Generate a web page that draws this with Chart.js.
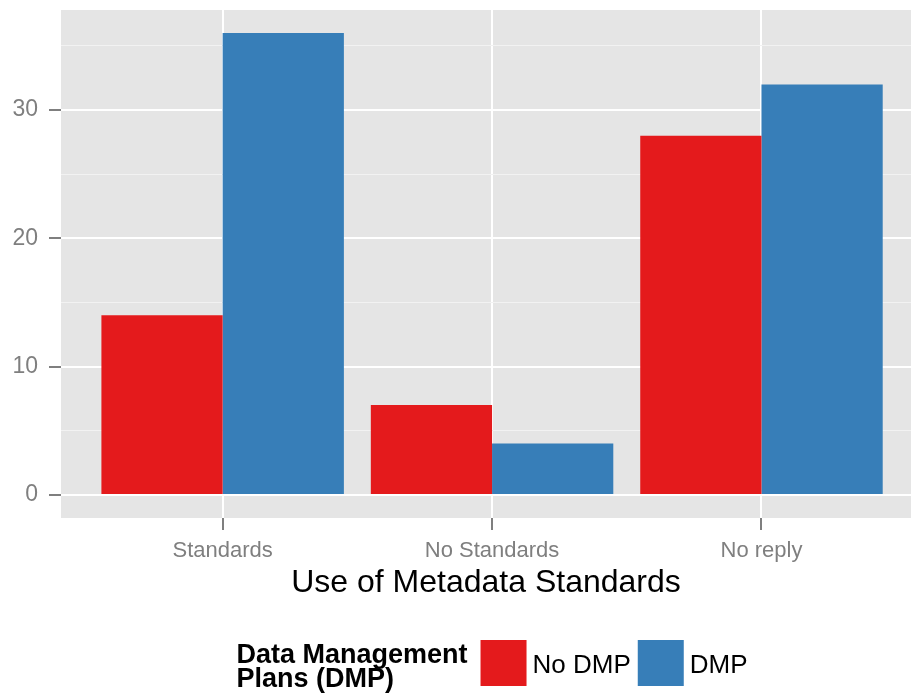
<!DOCTYPE html>
<html>
<head>
<meta charset="utf-8">
<script src="https://cdn.jsdelivr.net/npm/chart.js@4"></script>
<style>
  body { margin: 0; background: #fff; }
  #wrap { width: 911px; height: 697px; position: relative; }
</style>
</head>
<body>
<div id="wrap"><canvas id="chart"></canvas></div>
<script>
const categories = ['Standards', 'No Standards', 'No reply'];
const noDmp = [14, 7, 28];
const dmp = [36, 4, 32];
const seriesNames = ['No DMP', 'DMP'];
const seriesColors = ['#E41A1C', '#377EB8'];
const yMajor = [0, 10, 20, 30];
const yMinor = [5, 15, 25, 35];
const xTitle = 'Use of Metadata Standards';
const legendTitle = ['Data Management', 'Plans (DMP)'];

const FONT = '"Liberation Sans", Arial, sans-serif';

const panelBg = {
    id: 'panelBg',
    beforeDraw(chart) {
        const a = chart.chartArea;
        const c = chart.ctx;
        c.save();
        c.fillStyle = '#E5E5E5';
        c.fillRect(a.left, a.top, a.right - a.left, a.bottom - a.top);
        c.restore();
    }
};

const sideLegend = {
    id: 'sideLegend',
    afterDraw(chart) {
        const c = chart.ctx;
        c.save();
        c.font = 'bold 27px ' + FONT;
        const titleW = Math.max(...legendTitle.map(t => c.measureText(t).width));
        c.font = '26px ' + FONT;
        const labelW = seriesNames.map(t => c.measureText(t).width);
        const key = 46, gapTitle = 13, gapText = 6, gapItem = 7;
        let total = titleW + gapTitle;
        labelW.forEach((w, i) => { total += key + gapText + w + (i < labelW.length - 1 ? gapItem : 0); });
        const a = chart.chartArea;
        let x = (a.left + a.right) / 2 + 6 - total / 2;
        const keyTop = 640;
        const mid = keyTop + key / 2;

        c.fillStyle = '#000';
        c.textAlign = 'left';
        c.textBaseline = 'alphabetic';
        c.font = 'bold 27px ' + FONT;
        c.fillText(legendTitle[0], x, 663);
        c.fillText(legendTitle[1], x, 687);
        x += titleW + gapTitle;

        c.font = '26px ' + FONT;
        c.textBaseline = 'middle';
        seriesNames.forEach((name, i) => {
            c.fillStyle = seriesColors[i];
            c.fillRect(x, keyTop, key, key);
            x += key + gapText;
            c.fillStyle = '#000';
            c.fillText(name, x, mid + 3);
            x += labelW[i] + gapItem;
        });
        c.restore();
    }
};

const ctx = document.getElementById('chart');

new Chart(ctx, {
    type: 'bar',
    data: {
        datasets: [
            {
                label: seriesNames[0],
                data: categories.map((c, i) => ({ x: i + 1, y: noDmp[i] })),
                backgroundColor: seriesColors[0],
                borderWidth: 0
            },
            {
                label: seriesNames[1],
                data: categories.map((c, i) => ({ x: i + 1, y: dmp[i] })),
                backgroundColor: seriesColors[1],
                borderWidth: 0
            }
        ]
    },
    options: {
        responsive: true,
        maintainAspectRatio: false,
        animation: false,
        events: [],
        categoryPercentage: 0.9,
        barPercentage: 1,
        layout: { padding: { top: 10, right: 0, bottom: 95, left: 0 } },
        plugins: {
            legend: { display: false },
            tooltip: { enabled: false }
        },
        scales: {
            x: {
                type: 'linear',
                offset: false,
                min: 0.4,
                max: 3.555,
                afterBuildTicks(scale) {
                    scale.ticks = categories.map((c, i) => ({ value: i + 1 }));
                },
                afterFit(scale) {
                    scale.height = 84;
                    scale.paddingLeft = 0;
                    scale.paddingRight = 0;
                },
                border: { display: false },
                grid: {
                    offset: false,
                    color: '#FFFFFF',
                    lineWidth: 2,
                    tickLength: 12,
                    tickColor: '#7F7F7F',
                    tickWidth: 2
                },
                ticks: {
                    padding: 8,
                    maxRotation: 0,
                    autoSkip: false,
                    color: '#7F7F7F',
                    font: { family: FONT, size: 22 },
                    callback: (v) => categories[Math.round(v) - 1]
                },
                title: {
                    display: true,
                    text: xTitle,
                    color: '#000',
                    font: { family: FONT, size: 32 },
                    padding: 0
                }
            },
            y: {
                min: -1.8,
                max: 37.8,
                afterBuildTicks(scale) {
                    scale.ticks = yMajor.concat(yMinor).sort((a, b) => a - b).map(v => ({ value: v }));
                },
                afterFit(scale) {
                    scale.width = 61;
                    scale.paddingTop = 0;
                    scale.paddingBottom = 0;
                },
                border: { display: false },
                grid: {
                    color: (c) => yMajor.includes(c.tick.value) ? '#FFFFFF' : '#F2F2F2',
                    lineWidth: (c) => yMajor.includes(c.tick.value) ? 2 : 1,
                    tickLength: 12,
                    tickColor: (c) => yMajor.includes(c.tick.value) ? '#7F7F7F' : 'rgba(0,0,0,0)',
                    tickWidth: 2
                },
                ticks: {
                    padding: 11,
                    color: '#7F7F7F',
                    font: { family: FONT, size: 23 },
                    callback: (v) => yMajor.includes(v) ? String(v) : ''
                }
            }
        }
    },
    plugins: [panelBg, sideLegend]
});
</script>
</body>
</html>
